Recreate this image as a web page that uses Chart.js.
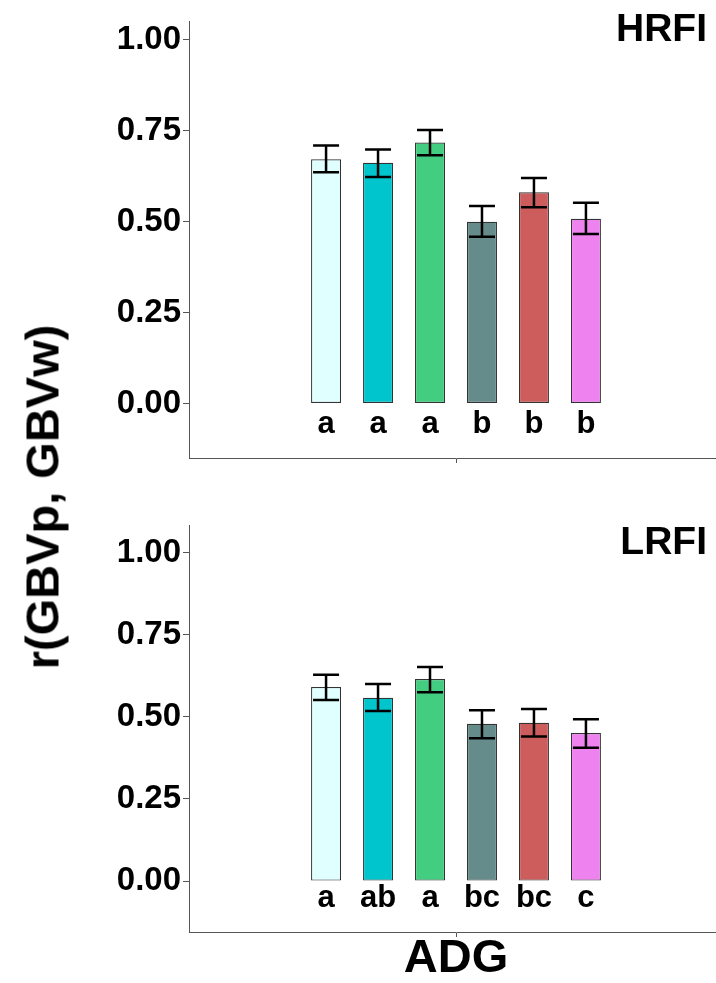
<!DOCTYPE html>
<html>
<head>
<meta charset="utf-8">
<script src="https://cdn.jsdelivr.net/npm/chart.js@4.4.0/dist/chart.umd.min.js"></script>
<style>
  html, body { margin: 0; padding: 0; background: #fff; overflow: hidden; width: 716px; height: 983px; }
  .wrap { position: relative; width: 716px; height: 983px; }
  canvas { position: absolute; left: 0; }
  #topChart { top: 0; }
  #bottomChart { top: 490px; }
  #yTitle {
    position: absolute; left: 42px; top: 497px;
    transform: translate(-50%, -50%) rotate(-90deg);
    font: bold 47px "Liberation Sans", Arial, sans-serif;
    white-space: nowrap; color: #000;
  }
</style>
</head>
<body>
<div class="wrap">
  <canvas id="topChart" width="730" height="490"></canvas>
  <canvas id="bottomChart" width="730" height="493"></canvas>
  <div id="yTitle">r(GBVp, GBVw)</div>
</div>
<script>
// Groups (one bar each, dodged inside the single ADG category)
const groups = ["G1", "G2", "G3", "G4", "G5", "G6"];
const barColors = ["#E0FFFF", "#00C5CD", "#43CD80", "#668B8B", "#CD5C5C", "#EE82EE"];
const yTicks = [0, 0.25, 0.5, 0.75, 1.0];

// HRFI panel
const hrfiValues = [0.672, 0.662, 0.718, 0.500, 0.581, 0.508];
const hrfiLower  = [0.636, 0.623, 0.683, 0.459, 0.540, 0.466];
const hrfiUpper  = [0.710, 0.699, 0.752, 0.543, 0.620, 0.552];
const hrfiLetters = ["a", "a", "a", "b", "b", "b"];

// LRFI panel
const lrfiValues = [0.591, 0.558, 0.615, 0.479, 0.482, 0.451];
const lrfiLower  = [0.551, 0.518, 0.575, 0.435, 0.440, 0.406];
const lrfiUpper  = [0.628, 0.600, 0.652, 0.520, 0.524, 0.493];
const lrfiLetters = ["a", "ab", "a", "bc", "bc", "c"];

const FONT = '"Liberation Sans", Arial, sans-serif';
Chart.defaults.font.family = FONT;
Chart.defaults.color = "#000";

// error bars, significance letters and panel label
const annotatePlugin = {
  id: "annotate",
  afterDatasetsDraw(chart, args, opts) {
    const ctx = chart.ctx;
    const y = chart.scales.y;
    ctx.save();
    chart.data.datasets.forEach((ds, i) => {
      const bar = chart.getDatasetMeta(i).data[0];
      const x = bar.x;
      const lo = y.getPixelForValue(opts.lower[i]);
      const hi = y.getPixelForValue(opts.upper[i]);
      const half = 13;
      ctx.strokeStyle = "#000";
      ctx.lineWidth = 2.5;
      ctx.beginPath();
      ctx.moveTo(x, lo); ctx.lineTo(x, hi);
      ctx.moveTo(x - half, lo); ctx.lineTo(x + half, lo);
      ctx.moveTo(x - half, hi); ctx.lineTo(x + half, hi);
      ctx.stroke();

      ctx.fillStyle = "#000";
      ctx.font = "bold 31px " + FONT;
      ctx.textAlign = "center";
      ctx.textBaseline = "alphabetic";
      ctx.fillText(opts.letters[i], x, y.getPixelForValue(-0.08));
    });
    ctx.font = "bold 39px " + FONT;
    ctx.textAlign = "right";
    ctx.textBaseline = "middle";
    ctx.fillText(opts.panel, 707, chart.chartArea.top + opts.panelDy);
    ctx.restore();
  }
};

function makeChart(id, values, lower, upper, letters, panel, yMax, yMin, padTop, xHeight, panelDy, showTitle) {
  const ctx = document.getElementById(id).getContext("2d");
  return new Chart(ctx, {
    type: "bar",
    data: {
      labels: ["ADG"],
      datasets: groups.map((g, i) => ({
        label: g,
        data: [values[i]],
        backgroundColor: barColors[i],
        borderColor: "#333",
        borderWidth: 1.2,
        borderSkipped: false,
        categoryPercentage: 0.584,
        barPercentage: 0.577
      }))
    },
    options: {
      responsive: false,
      animation: false,
      layout: { padding: { left: 0, right: 7, top: padTop, bottom: 0 } },
      plugins: {
        legend: { display: false },
        tooltip: { enabled: false },
        annotate: { lower: lower, upper: upper, letters: letters, panel: panel, panelDy: panelDy }
      },
      scales: {
        x: {
          offset: true,
          grid: { offset: false, drawOnChartArea: false, tickLength: 5, color: "#555" },
          border: { display: true, color: "#555", width: 1 },
          ticks: { display: false },
          title: {
            display: showTitle, text: "ADG",
            font: { size: 47, weight: "bold" }, color: "#000",
            padding: { top: 0, bottom: -4 }
          },
          afterFit: s => { s.height = xHeight; }
        },
        y: {
          min: yMin, max: yMax,
          grid: { drawOnChartArea: false, tickLength: 6, color: "#555" },
          border: { display: true, color: "#555", width: 1 },
          ticks: {
            padding: 2,
            font: { size: 33, weight: "bold" }, color: "#000",
            callback: v => Number(v).toFixed(2)
          },
          afterBuildTicks: s => { s.ticks = yTicks.map(v => ({ value: v })); },
          afterFit: s => { s.width = 189; }
        }
      }
    },
    plugins: [annotatePlugin]
  });
}

makeChart("topChart", hrfiValues, hrfiLower, hrfiUpper, hrfiLetters, "HRFI", 1.05, -0.15, 18, 32, 8, false);
makeChart("bottomChart", lrfiValues, lrfiLower, lrfiUpper, lrfiLetters, "LRFI", 1.084, -0.155, 35, 51, 18, true);
</script>
</body>
</html>
